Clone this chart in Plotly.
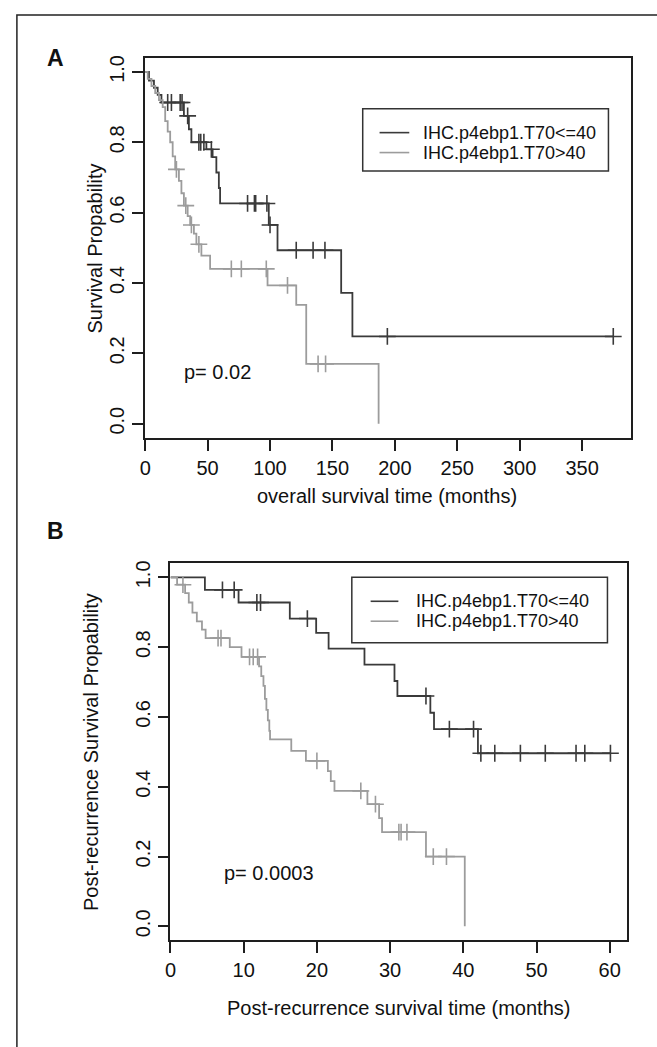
import plotly.graph_objects as go

W, H = 657, 1047

# ---------------- data ----------------
# Panel A: overall survival (months)
a_low_event_t = [3, 7, 10, 13, 31, 35, 37, 49, 54, 57, 59, 60, 99, 106, 157, 166]
a_low_event_s = [0.975, 0.955, 0.935, 0.913, 0.875, 0.837, 0.80, 0.78, 0.758, 0.714, 0.67, 0.626,
                 0.565, 0.493, 0.372, 0.248]
a_low_cens_t = [18, 21, 28, 29.5, 34, 43, 44.5, 47, 53, 82, 87.5, 88.5, 97.5, 100, 121, 134.5, 144, 194, 375]

a_high_event_t = [2, 5, 8, 11, 14, 16, 18, 20, 22, 24, 27, 29, 31, 34, 36, 39, 41, 45, 52, 98, 121, 129, 187]
a_high_event_s = [0.98, 0.96, 0.94, 0.92, 0.90, 0.86, 0.83, 0.80, 0.76, 0.723, 0.69, 0.655, 0.62, 0.59,
                  0.565, 0.54, 0.51, 0.478, 0.44, 0.393, 0.338, 0.17, 0.0]
a_high_cens_t = [25, 32.5, 37, 43, 69, 77, 97, 114, 138.5, 144.5]

# Panel B: post-recurrence survival (months)
b_low_event_t = [4.7, 9.3, 16.3, 19.9, 21.6, 26.5, 30.6, 31.0, 35.5, 36.0, 42.0]
b_low_event_s = [0.964, 0.928, 0.882, 0.841, 0.796, 0.750, 0.703, 0.66, 0.612, 0.565, 0.496]
b_low_cens_t = [7.1, 8.7, 11.8, 12.3, 18.7, 34.9, 38.1, 41.4, 42.4, 44.3, 47.8, 51.2, 55.4, 56.6, 60.1]

b_high_event_t = [0.9, 2.0, 2.5, 3.0, 3.6, 4.3, 4.8, 8.1, 9.7, 12.1, 12.4, 12.7, 12.9, 13.1, 13.3, 13.5,
                  13.6, 16.5, 18.5, 21.5, 21.9, 22.4, 26.9, 28.5, 28.9, 34.9, 40.2]
b_high_event_s = [0.979, 0.955, 0.928, 0.899, 0.874, 0.85, 0.826, 0.80, 0.772, 0.745, 0.717, 0.689, 0.652,
                  0.62, 0.59, 0.56, 0.536, 0.503, 0.474, 0.445, 0.416, 0.388, 0.35, 0.31, 0.27, 0.2, 0.0]
b_high_cens_t = [1.7, 6.5, 6.9, 10.8, 11.3, 11.9, 20, 26, 28, 31.2, 31.5, 32.3, 35.9, 37.7]

group_names = ["IHC.p4ebp1.T70<=40", "IHC.p4ebp1.T70>40"]
y_ticks = [0.0, 0.2, 0.4, 0.6, 0.8, 1.0]
y_ticklabels = ["0.0", "0.2", "0.4", "0.6", "0.8", "1.0"]
a_x_ticks = [0, 50, 100, 150, 200, 250, 300, 350]
b_x_ticks = [0, 10, 20, 30, 40, 50, 60]

# ---------------- style ----------------
DARK = "#3a3a3a"
GREY = "#9c9c9c"
FRAME = "#1e1e1e"
FONT = "Liberation Sans, Arial, sans-serif"


def step_xy(event_t, event_s, cens_t):
    last_t = max(event_t + cens_t)
    xs = [0.0] + list(event_t)
    ys = [1.0] + list(event_s)
    if last_t > event_t[-1]:
        xs.append(last_t)
        ys.append(event_s[-1])
    return xs, ys


def surv_at(t, event_t, event_s):
    s = 1.0
    for et, es in zip(event_t, event_s):
        if et <= t:
            s = es
    return s


fig = go.Figure()


def add_curve(event_t, event_s, cens_t, color, name, xa, ya):
    xs, ys = step_xy(event_t, event_s, cens_t)
    fig.add_trace(go.Scatter(x=xs, y=ys, mode="lines", line=dict(color=color, width=1.8, shape="hv"),
                             name=name, showlegend=False, xaxis=xa, yaxis=ya, hoverinfo="skip"))
    cy = [surv_at(t, event_t, event_s) for t in cens_t]
    fig.add_trace(go.Scatter(x=cens_t, y=cy, mode="markers",
                             marker=dict(symbol="cross-thin", size=12, line=dict(color=color, width=1.6)),
                             showlegend=False, xaxis=xa, yaxis=ya, hoverinfo="skip"))


add_curve(a_low_event_t, a_low_event_s, a_low_cens_t, DARK, group_names[0], "x", "y")
add_curve(a_high_event_t, a_high_event_s, a_high_cens_t, GREY, group_names[1], "x", "y")
add_curve(b_low_event_t, b_low_event_s, b_low_cens_t, DARK, group_names[0], "x2", "y2")
add_curve(b_high_event_t, b_high_event_s, b_high_cens_t, GREY, group_names[1], "x2", "y2")


def px_x(p):
    return p / W


def px_y(p):
    return 1 - p / H


axis_common = dict(showline=True, mirror=True, linecolor=FRAME, linewidth=1.6, ticks="outside",
                   ticklen=11, tickwidth=1.5, tickcolor=FRAME, showgrid=False, zeroline=False,
                   tickfont=dict(family=FONT, size=20, color="#111"))

fig.update_layout(
    width=W, height=H, margin=dict(l=0, r=0, t=0, b=0),
    paper_bgcolor="white", plot_bgcolor="white", showlegend=False,
    xaxis=dict(domain=[px_x(140.5), px_x(630.5)], range=[0, 389], tickvals=a_x_ticks, anchor="y",
               **axis_common),
    yaxis=dict(domain=[px_y(436), px_y(55)], range=[-0.04, 1.04], tickvals=y_ticks, ticktext=y_ticklabels,
               tickangle=-90, anchor="x", **axis_common),
    xaxis2=dict(domain=[px_x(166), px_x(627)], range=[0, 62.4], tickvals=b_x_ticks, anchor="y2",
                **axis_common),
    yaxis2=dict(domain=[px_y(940), px_y(562)], range=[-0.04, 1.04], tickvals=y_ticks, ticktext=y_ticklabels,
                tickangle=-90, anchor="x2", **axis_common),
)

shapes = []
annotations = []

# outer figure border
shapes.append(dict(type="rect", xref="paper", yref="paper", x0=px_x(11), x1=px_x(680), y0=px_y(1080),
                   y1=px_y(12), line=dict(color="#222", width=1.5)))


def legend_box(x0, y0, x1, y1, line_x0, line_x1, text_x, row_y):
    shapes.append(dict(type="rect", xref="paper", yref="paper", x0=px_x(x0), x1=px_x(x1), y0=px_y(y1),
                       y1=px_y(y0), line=dict(color="#333", width=1.5), fillcolor="white", layer="above"))
    for name, col, ry in zip(group_names, [DARK, GREY], row_y):
        shapes.append(dict(type="line", xref="paper", yref="paper", x0=px_x(line_x0), x1=px_x(line_x1),
                           y0=px_y(ry), y1=px_y(ry), line=dict(color=col, width=1.6)))
        annotations.append(dict(text=name, xref="paper", yref="paper", x=px_x(text_x), y=px_y(ry),
                                xanchor="left", yanchor="middle", showarrow=False,
                                font=dict(family=FONT, size=18, color="#111")))


legend_box(360, 106, 608, 168.5, 377, 407, 419, [130, 150])
legend_box(349, 576, 607, 641.5, 368, 396, 412, [600, 620])


def text(t, x, y, size=20, angle=0, bold=False, anchor="center"):
    annotations.append(dict(text=("<b>%s</b>" % t) if bold else t, xref="paper", yref="paper",
                            x=px_x(x), y=px_y(y), xanchor=anchor, yanchor="middle", showarrow=False,
                            textangle=angle, font=dict(family=FONT, size=size, color="#111")))


text("A", 50, 55, size=23, bold=True)
text("B", 50, 530, size=23, bold=True)
text("p= 0.02", 178, 370, anchor="left")
text("p= 0.0003", 218, 872, anchor="left")
text("overall survival time (months)", 385, 494, size=20)
text("Survival Propability", 90, 246, size=20, angle=-90)
text("Post-recurrence survival time (months)", 396, 1008, size=20)
text("Post-recurrence Survival Propability", 86, 751, size=20, angle=-90)

fig.update_layout(shapes=shapes, annotations=annotations)

fig.write_html("out.html", post_script="document.body.style.margin='0';",
               config={"displayModeBar": False})
